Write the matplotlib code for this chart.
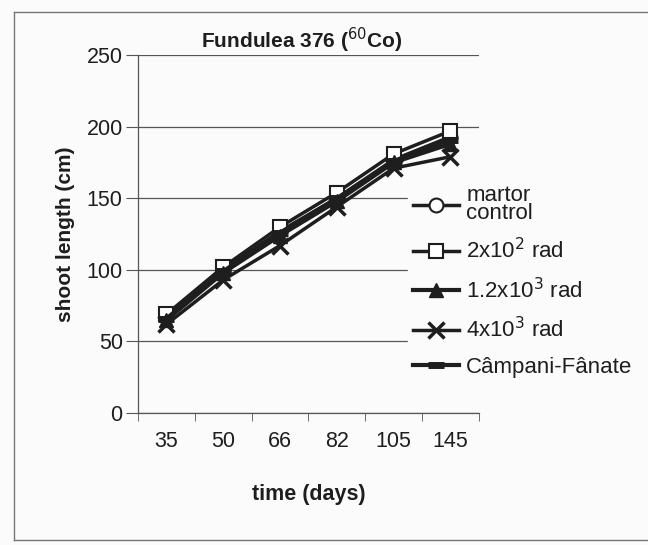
import numpy as np
import matplotlib
matplotlib.use('Agg')
import matplotlib.pyplot as plt
from matplotlib.lines import Line2D

#------------------------------------------------------------------------------
# Data
#------------------------------------------------------------------------------
days = ['35', '50', '66', '82', '105', '145']

control   = [67, 100, 127, 150, 177, 193]
rad_2e2   = [69, 102, 130, 154, 181, 197]
rad_12e3  = [65,  98, 124, 148, 175, 188]
rad_4e3   = [62,  93, 117, 144, 171, 179]
campani   = [66,  99, 126, 150, 176, 191]

labels = ['martor\ncontrol', '2x10$^{2}$ rad', '1.2x10$^{3}$ rad',
          '4x10$^{3}$ rad', 'Câmpani-Fânate']

yticks = [0, 50, 100, 150, 200, 250]

#------------------------------------------------------------------------------
plt.rcParams['font.family'] = ['Liberation Sans', 'DejaVu Sans']
bg = '#fbfbfb'
ink = '#1e1e1e'

fig = plt.figure(figsize=(6.48, 5.45), dpi=100, facecolor=bg)
ax = fig.add_axes([0.213, 0.242, 0.526, 0.657], facecolor=bg)

x = np.arange(len(days))

ax.plot(x, control, color=ink, lw=2.5, marker='o', ms=10, mfc='white',
        mec=ink, mew=1.5, label=labels[0], zorder=3)
ax.plot(x, rad_2e2, color=ink, lw=2.5, marker='s', ms=10, mfc='white',
        mec=ink, mew=1.5, label=labels[1], zorder=3)
ax.plot(x, rad_12e3, color=ink, lw=3, marker='^', ms=10, mfc=ink,
        mec=ink, label=labels[2], zorder=3)
ax.plot(x, rad_4e3, color=ink, lw=2.5, marker='x', ms=11, mew=2.5,
        mec=ink, label=labels[3], zorder=3)
ax.plot(x, campani, color=ink, lw=3, marker='_', ms=12, mew=5,
        mec=ink, label=labels[4], zorder=3)

# axes styling
ax.set_xlim(-0.5, len(days) - 0.5)
ax.set_ylim(0, 250)
ax.set_yticks(yticks)
ax.set_xticks(x)
ax.set_xticklabels(days)
ax.set_xticks(np.arange(len(days) + 1) - 0.5, minor=True)
ax.tick_params(axis='x', which='major', length=0, pad=13, labelsize=15.5,
               colors=ink)
ax.tick_params(axis='x', which='minor', length=6, color='#555555',
               direction='out')
ax.tick_params(axis='y', length=9, color='#555555', labelsize=15.5,
               colors=ink, pad=2)
ax.grid(axis='y', color='#555555', lw=0.9)
ax.set_axisbelow(True)
for side in ['top', 'right']:
    ax.spines[side].set_visible(False)
for side in ['left', 'bottom']:
    ax.spines[side].set_color('#555555')
    ax.spines[side].set_linewidth(0.9)

ax.set_title('Fundulea 376 ($^{60}$Co)', fontsize=15, fontweight='bold',
             color=ink, pad=3, x=0.48)
ax.set_xlabel('time (days)', fontsize=15.5, fontweight='bold', color=ink,
              labelpad=23)
ax.set_ylabel('shoot length (cm)', fontsize=15, fontweight='bold',
              color=ink, labelpad=8)

leg = ax.legend(loc='upper left', bbox_to_anchor=(0.613, 0.69),
                bbox_transform=fig.transFigure, frameon=True,
                facecolor=bg, edgecolor=bg, framealpha=1, fontsize=16,
                handlelength=2.1, labelspacing=0.64, handletextpad=0.3,
                borderpad=0.2)
for t in leg.get_texts():
    t.set_color(ink)
    t.set_linespacing(0.85)

# outer chart frame (open on the right)
frame = dict(color='#777777', lw=1.0, transform=fig.transFigure)
fig.add_artist(Line2D([0.022, 1.0], [0.978, 0.978], **frame))
fig.add_artist(Line2D([0.022, 0.022], [0.978, 0.01], **frame))
fig.add_artist(Line2D([0.022, 1.0], [0.01, 0.01], **frame))

plt.savefig('out.png', dpi=100, facecolor=bg)
